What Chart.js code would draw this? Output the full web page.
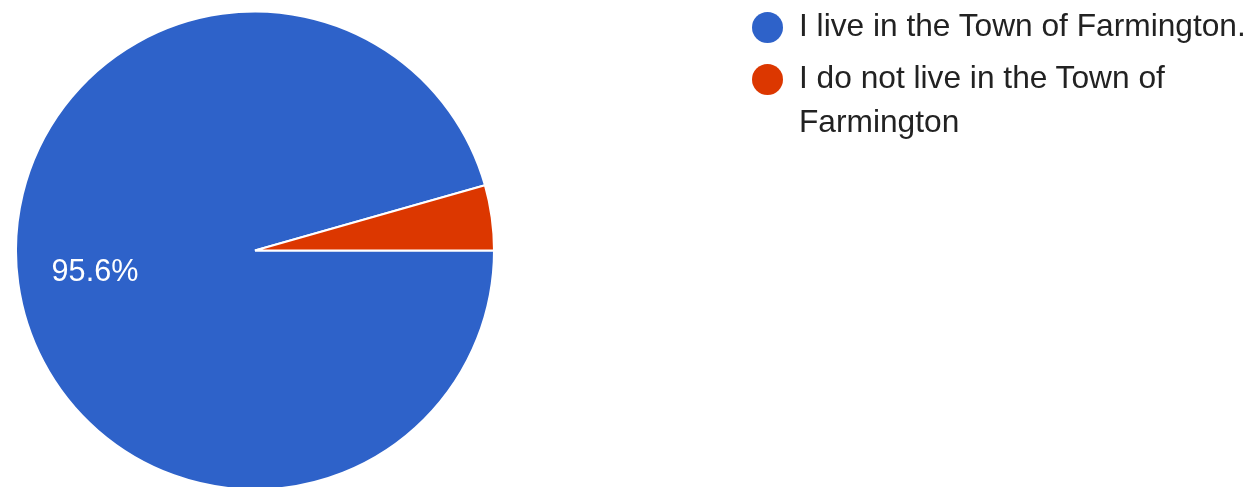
<!DOCTYPE html>
<html>
<head>
<meta charset="utf-8">
<script src="https://cdn.jsdelivr.net/npm/chart.js@4"></script>
<style>
  html, body { margin: 0; padding: 0; background: #fff; overflow: hidden; }
  #wrap { position: relative; width: 1258px; height: 487px; }
  #legend { position: absolute; left: 752px; top: 3px; font-family: "Liberation Sans", Arial, sans-serif;
            font-size: 31.7px; line-height: 44px; color: #222; }
  .item { position: relative; padding-left: 47px; width: 460px; margin-bottom: 8px; }
  .dot { position: absolute; left: 0; top: 8.5px; width: 31px; height: 31px; border-radius: 50%; }
</style>
</head>
<body>
<div id="wrap">
  <canvas id="pieChart" width="1258" height="487"></canvas>
  <div id="legend"></div>
</div>
<script>
// respuestas y porcentajes
const etiquetas = ['I live in the Town of Farmington.', 'I do not live in the Town of Farmington'];
const valores = [95.6, 4.4];
const colores = ['#2E62C9', '#DC3700'];

// leyenda en html (para que el texto pueda partirse en dos lineas)
const legendEl = document.getElementById('legend');
etiquetas.forEach((txt, i) => {
    const item = document.createElement('div');
    item.className = 'item';
    const dot = document.createElement('span');
    dot.className = 'dot';
    dot.style.background = colores[i];
    item.appendChild(dot);
    item.appendChild(document.createTextNode(txt));
    legendEl.appendChild(item);
});

// etiqueta de porcentaje dentro de la porcion
const pctLabels = {
    id: 'pctLabels',
    afterDatasetsDraw(chart) {
        const ctx = chart.ctx;
        const meta = chart.getDatasetMeta(0);
        const total = valores.reduce((a, b) => a + b, 0);
        ctx.save();
        ctx.fillStyle = '#fff';
        ctx.font = '30.6px "Liberation Sans", Arial, sans-serif';
        ctx.textAlign = 'center';
        ctx.textBaseline = 'middle';
        meta.data.forEach((arc, i) => {
            const pct = valores[i] / total * 100;
            if (pct < 5) return;
            const p = arc.getProps(['x', 'y', 'startAngle', 'endAngle', 'outerRadius'], true);
            const mid = (p.startAngle + p.endAngle) / 2;
            const d = p.outerRadius * 0.676;
            ctx.fillText(pct.toFixed(1) + '%', p.x + Math.cos(mid) * d, p.y + Math.sin(mid) * d);
        });
        ctx.restore();
    }
};

const pieCtx = document.getElementById('pieChart').getContext('2d');
new Chart(pieCtx, {
    type: 'pie',
    data: {
        labels: etiquetas,
        datasets: [{
            data: valores,
            backgroundColor: colores,
            borderColor: '#fff',
            borderWidth: 2
        }]
    },
    options: {
        responsive: false,
        animation: false,
        rotation: 90,
        radius: 239,
        layout: { padding: { left: 16, right: 764, top: 14, bottom: 0 } },
        plugins: {
            legend: { display: false },
            tooltip: { enabled: false }
        }
    },
    plugins: [pctLabels]
});
</script>
</body>
</html>
